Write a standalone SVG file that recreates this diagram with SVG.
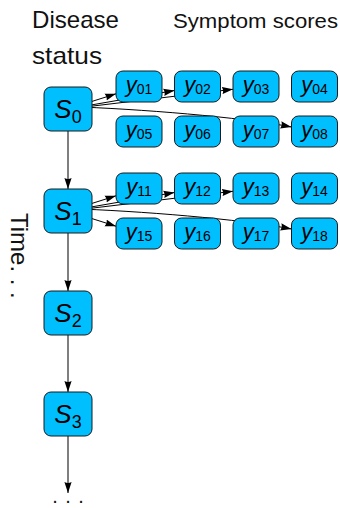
<svg xmlns="http://www.w3.org/2000/svg" width="340" height="508" viewBox="0 0 340 508">
<style>
.box{fill:#00BFFF;stroke:#1a1a1a;stroke-width:1}
.edge{fill:none;stroke:#000;stroke-width:1}
.lbl{font-family:"Liberation Sans",Arial,sans-serif;fill:#000}
.var{font-style:italic}
.sub{font-style:normal}
.title{font-family:"Liberation Sans",Arial,sans-serif;fill:#111}
</style>
<defs>
<marker id="arr" markerUnits="userSpaceOnUse" markerWidth="12" markerHeight="8" refX="11" refY="4" orient="auto">
<path d="M0,0.4 L11,4 L0,7.6 Q2,4 0,0.4 z" fill="#000"/>
</marker>
</defs>
<rect width="340" height="508" fill="#fff"/>

<text class="title" x="32" y="28" font-size="24" textLength="87" lengthAdjust="spacingAndGlyphs">Disease</text>
<text class="title" x="32" y="64" font-size="24" textLength="70" lengthAdjust="spacingAndGlyphs">status</text>
<text class="title" x="173" y="28" font-size="20" textLength="165" lengthAdjust="spacingAndGlyphs">Symptom scores</text>
<text class="title" transform="translate(11,213) rotate(90)" font-size="24">Time. . .</text>
<text class="title" x="55 68 81" y="503" font-size="20" text-anchor="middle">...</text>

<g id="connectors">
<path class="edge" marker-end="url(#arr)" d="M68,131 L68,189"/>
<path class="edge" marker-end="url(#arr)" d="M68,233 L68,291"/>
<path class="edge" marker-end="url(#arr)" d="M68,335 L68,392"/>
<path class="edge" marker-end="url(#arr)" d="M68,436 L68,493"/>
<path class="edge" marker-end="url(#arr)" d="M68,109 L116,93.8"/>
<path class="edge" marker-end="url(#arr)" d="M68,109 L174.5,90.5"/>
<path class="edge" marker-end="url(#arr)" d="M68,109 L233,89.25"/>
<path class="edge" marker-end="url(#arr)" d="M68,106.5 C140,109 240,117 291.5,127"/>
<path class="edge" marker-end="url(#arr)" d="M68,211 L116,195.8"/>
<path class="edge" marker-end="url(#arr)" d="M68,211 L174.5,192.5"/>
<path class="edge" marker-end="url(#arr)" d="M68,211 L233,191.25"/>
<path class="edge" marker-end="url(#arr)" d="M68,211 L116,226.2"/>
<path class="edge" marker-end="url(#arr)" d="M68,208.5 C140,211 240,219 291.5,229"/>
</g>

<g id="S0"><rect class="box" x="44" y="87" width="48" height="44" rx="7"/><text class="lbl" x="68" y="118" text-anchor="middle"><tspan class="var" font-size="26">S</tspan><tspan class="sub" font-size="18" dy="5">0</tspan></text></g>
<g id="S1"><rect class="box" x="44" y="189" width="48" height="44" rx="7"/><text class="lbl" x="68" y="220" text-anchor="middle"><tspan class="var" font-size="26">S</tspan><tspan class="sub" font-size="18" dy="5">1</tspan></text></g>
<g id="S2"><rect class="box" x="44" y="291" width="48" height="44" rx="7"/><text class="lbl" x="68" y="322" text-anchor="middle"><tspan class="var" font-size="26">S</tspan><tspan class="sub" font-size="18" dy="5">2</tspan></text></g>
<g id="S3"><rect class="box" x="44" y="392" width="48" height="44" rx="7"/><text class="lbl" x="68" y="423" text-anchor="middle"><tspan class="var" font-size="26">S</tspan><tspan class="sub" font-size="18" dy="5">3</tspan></text></g>

<g id="y01"><rect class="box" x="116" y="71" width="46" height="31" rx="7"/><text class="lbl" x="139" y="91.5" text-anchor="middle"><tspan class="var" font-size="22">y</tspan><tspan class="sub" font-size="14" dy="2">01</tspan></text></g>
<g id="y02"><rect class="box" x="174.5" y="71" width="46" height="31" rx="7"/><text class="lbl" x="197.5" y="91.5" text-anchor="middle"><tspan class="var" font-size="22">y</tspan><tspan class="sub" font-size="14" dy="2">02</tspan></text></g>
<g id="y03"><rect class="box" x="233" y="71" width="46" height="31" rx="7"/><text class="lbl" x="256" y="91.5" text-anchor="middle"><tspan class="var" font-size="22">y</tspan><tspan class="sub" font-size="14" dy="2">03</tspan></text></g>
<g id="y04"><rect class="box" x="291.5" y="71" width="46" height="31" rx="7"/><text class="lbl" x="314.5" y="91.5" text-anchor="middle"><tspan class="var" font-size="22">y</tspan><tspan class="sub" font-size="14" dy="2">04</tspan></text></g>
<g id="y05"><rect class="box" x="116" y="116" width="46" height="31" rx="7"/><text class="lbl" x="139" y="136.5" text-anchor="middle"><tspan class="var" font-size="22">y</tspan><tspan class="sub" font-size="14" dy="2">05</tspan></text></g>
<g id="y06"><rect class="box" x="174.5" y="116" width="46" height="31" rx="7"/><text class="lbl" x="197.5" y="136.5" text-anchor="middle"><tspan class="var" font-size="22">y</tspan><tspan class="sub" font-size="14" dy="2">06</tspan></text></g>
<g id="y07"><rect class="box" x="233" y="116" width="46" height="31" rx="7"/><text class="lbl" x="256" y="136.5" text-anchor="middle"><tspan class="var" font-size="22">y</tspan><tspan class="sub" font-size="14" dy="2">07</tspan></text></g>
<g id="y08"><rect class="box" x="291.5" y="116" width="46" height="31" rx="7"/><text class="lbl" x="314.5" y="136.5" text-anchor="middle"><tspan class="var" font-size="22">y</tspan><tspan class="sub" font-size="14" dy="2">08</tspan></text></g>

<g id="y11"><rect class="box" x="116" y="173" width="46" height="31" rx="7"/><text class="lbl" x="139" y="193.5" text-anchor="middle"><tspan class="var" font-size="22">y</tspan><tspan class="sub" font-size="14" dy="2">11</tspan></text></g>
<g id="y12"><rect class="box" x="174.5" y="173" width="46" height="31" rx="7"/><text class="lbl" x="197.5" y="193.5" text-anchor="middle"><tspan class="var" font-size="22">y</tspan><tspan class="sub" font-size="14" dy="2">12</tspan></text></g>
<g id="y13"><rect class="box" x="233" y="173" width="46" height="31" rx="7"/><text class="lbl" x="256" y="193.5" text-anchor="middle"><tspan class="var" font-size="22">y</tspan><tspan class="sub" font-size="14" dy="2">13</tspan></text></g>
<g id="y14"><rect class="box" x="291.5" y="173" width="46" height="31" rx="7"/><text class="lbl" x="314.5" y="193.5" text-anchor="middle"><tspan class="var" font-size="22">y</tspan><tspan class="sub" font-size="14" dy="2">14</tspan></text></g>
<g id="y15"><rect class="box" x="116" y="218" width="46" height="31" rx="7"/><text class="lbl" x="139" y="238.5" text-anchor="middle"><tspan class="var" font-size="22">y</tspan><tspan class="sub" font-size="14" dy="2">15</tspan></text></g>
<g id="y16"><rect class="box" x="174.5" y="218" width="46" height="31" rx="7"/><text class="lbl" x="197.5" y="238.5" text-anchor="middle"><tspan class="var" font-size="22">y</tspan><tspan class="sub" font-size="14" dy="2">16</tspan></text></g>
<g id="y17"><rect class="box" x="233" y="218" width="46" height="31" rx="7"/><text class="lbl" x="256" y="238.5" text-anchor="middle"><tspan class="var" font-size="22">y</tspan><tspan class="sub" font-size="14" dy="2">17</tspan></text></g>
<g id="y18"><rect class="box" x="291.5" y="218" width="46" height="31" rx="7"/><text class="lbl" x="314.5" y="238.5" text-anchor="middle"><tspan class="var" font-size="22">y</tspan><tspan class="sub" font-size="14" dy="2">18</tspan></text></g>
</svg>
